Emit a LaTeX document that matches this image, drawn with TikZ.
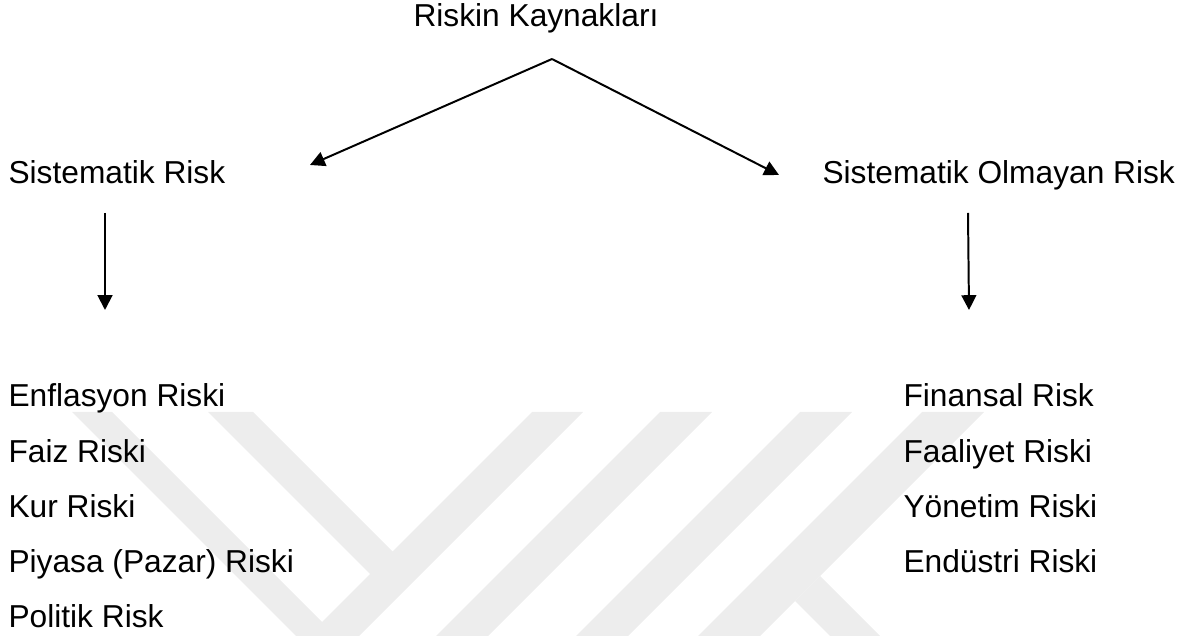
\documentclass[tikz,border=0pt]{standalone}
\usepackage{fontspec}
\setmainfont{Liberation Sans}
\usetikzlibrary{arrows.meta,positioning}
\definecolor{wmark}{HTML}{EDEDED}

\begin{document}
\begin{tikzpicture}[x=0.3785pt,y=-0.3785pt,font=\fontsize{12}{14}\selectfont]
\tikzstyle{txt} = [inner sep=0pt, anchor=base west]
\tikzstyle{item} = [txt, node distance=20.82pt]
\tikzstyle{wband} = [fill=wmark, draw=none]
\tikzstyle{line} = [draw, line width=0.75pt, -{Triangle[length=5.6pt,width=5.6pt]}]

\useasboundingbox (0,0) rectangle (1192,636);

% watermark in the background
\path [wband] (72,412) -- (112,412) -- (336,636) -- (296,636) -- cycle;
\path [wband] (208,412) -- (253,412) -- (405,564) -- (383,587) -- cycle;
\path [wband] (532,412) -- (583,412) -- (359,636) -- (308,636) -- cycle;
\path [wband] (660,412) -- (712,412) -- (488,636) -- (436,636) -- cycle;
\path [wband] (800,412) -- (852,412) -- (628,636) -- (576,636) -- cycle;
\path [wband] (922,412) -- (984,412) -- (760,636) -- (698,636) -- cycle;
\path [wband] (795,601) -- (820,576) -- (880,636) -- (830,636) -- cycle;

\node [txt] (kaynak) at (413,27) {Riskin Kaynakları};
\node [txt] (sist) at (8,184) {Sistematik Risk};
\node [txt] (nonsist) at (822,184) {Sistematik Olmayan Risk};

\node [txt] (enfl) at (8,407) {Enflasyon Riski};
\node [item, below=of enfl.base west, anchor=base west] (faiz) {Faiz Riski};
\node [item, below=of faiz.base west, anchor=base west] (kur) {Kur Riski};
\node [item, below=of kur.base west, anchor=base west] (piyasa) {Piyasa (Pazar) Riski};
\node [item, below=of piyasa.base west, anchor=base west] (politik) {Politik Risk};

\node [txt] (finans) at (903,407) {Finansal Risk};
\node [item, below=of finans.base west, anchor=base west] (faal) {Faaliyet Riski};
\node [item, below=of faal.base west, anchor=base west] (yonetim) {Yönetim Riski};
\node [item, below=of yonetim.base west, anchor=base west] (endustri) {Endüstri Riski};

\coordinate (split) at (552,59);
\coordinate (sisttip) at (310,165);
\coordinate (nonsisttip) at (779,175);
\coordinate (sistout) at (105,213);
\coordinate (sistin) at (105,310);
\coordinate (nonsistout) at (968,213);
\coordinate (nonsistin) at (969,310);

\path [line] (split) -- (sisttip);
\path [line] (split) -- (nonsisttip);
\path [line] (sistout) -- (sistin);
\path [line] (nonsistout) -- (nonsistin);

\end{tikzpicture}
\end{document}
